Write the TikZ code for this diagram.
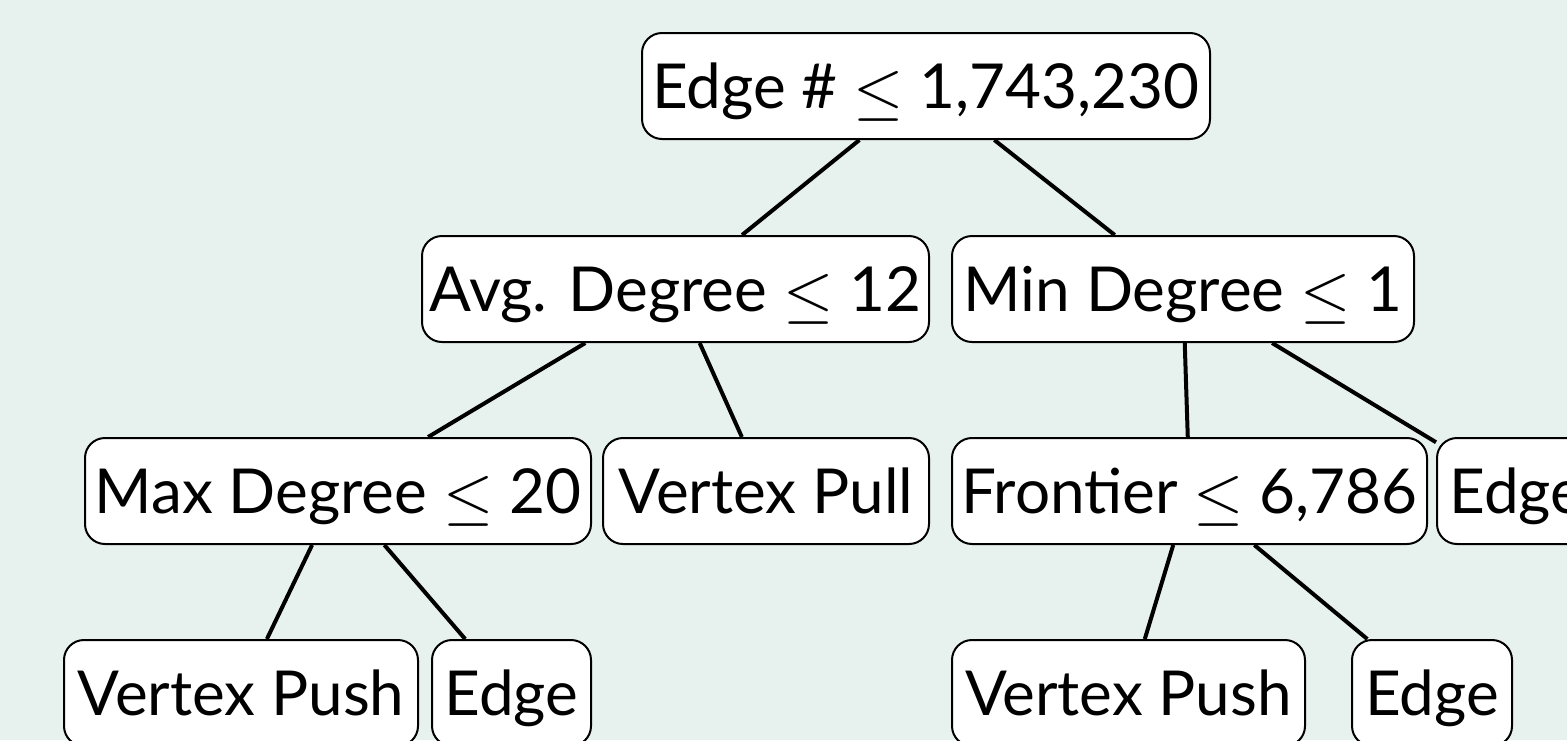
\documentclass[tikz,border=0pt]{standalone}
\usepackage{fontspec}
\setmainfont{Lato}
\definecolor{bgmint}{HTML}{E7F2EE}
\newcommand{\lesseq}{\raisebox{-0.08em}{\scalebox{1.3}{$\leq$}}}
\tikzset{
  tbox/.style={draw=black, line width=1pt, fill=white, rounded corners=10pt,
    minimum height=53pt, inner sep=0pt, text height=28pt, text depth=6pt,
    font=\fontsize{31}{37}\selectfont},
  link/.style={line width=2pt, draw=black}
}
\begin{document}
\begin{tikzpicture}[x=0.5pt, y=-0.5pt]
  \useasboundingbox (0,0) rectangle (1567,740);
  \clip (0,0) rectangle (1567,740);
  \fill[bgmint] (0,0) rectangle (1567,740);

  % decision nodes
  \node[tbox, minimum width=284pt]   (root)  at (926,86)    {Edge \# \lesseq{} 1,743,230};
  \node[tbox, minimum width=253.5pt] (avg)   at (675.5,289) {Avg. Degree \lesseq{} 12};
  \node[tbox, minimum width=231pt]   (mind)  at (1183,289)  {Min Degree \lesseq{} 1};
  \node[tbox, minimum width=253pt]   (maxd)  at (338,491)   {Max Degree \lesseq{} 20};
  \node[tbox, minimum width=163pt]   (vpull) at (766,491)   {Vertex Pull};
  \node[tbox, minimum width=237.5pt] (front) at (1189.5,491){Frontier \lesseq{} 6,786};
  \node[tbox, minimum width=79.5pt]  (edgeA) at (1516.5,491){Edge};
  % leaves
  \node[tbox, minimum width=177pt]   (vpushL) at (241,693)   {Vertex Push};
  \node[tbox, minimum width=79.5pt]  (edgeL)  at (511.5,693) {Edge};
  \node[tbox, minimum width=176.5pt] (vpushR) at (1128.5,693){Vertex Push};
  \node[tbox, minimum width=80pt]    (edgeR)  at (1432,693)  {Edge};

  % tree links
  \draw[link] (root) -- (avg);
  \draw[link] (root) -- (mind);
  \draw[link] (avg) -- (maxd);
  \draw[link] (avg) -- (vpull);
  \draw[link] (mind) -- (front);
  \draw[link] (mind) -- (edgeA);
  \draw[link] (maxd) -- (vpushL);
  \draw[link] (maxd) -- (edgeL);
  \draw[link] (front) -- (vpushR);
  \draw[link] (front) -- (edgeR);
\end{tikzpicture}
\end{document}
